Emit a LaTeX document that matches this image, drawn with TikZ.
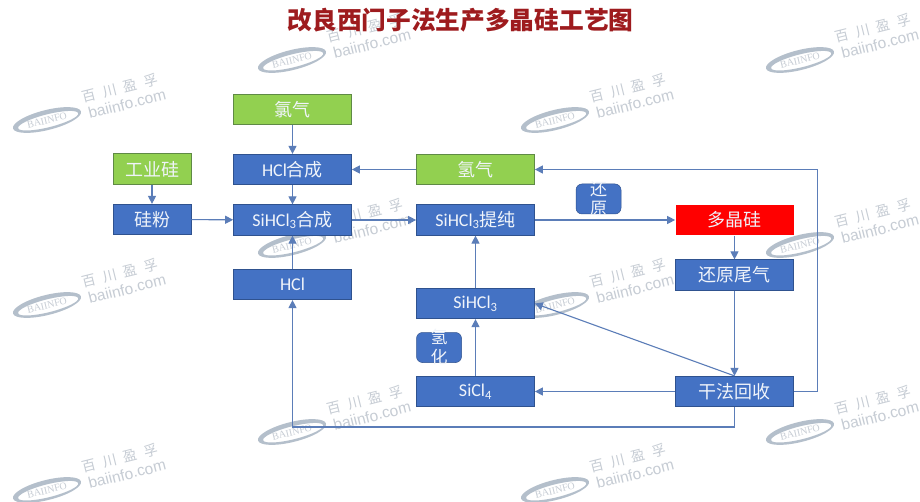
\documentclass[tikz,border=0pt]{standalone}
\usepackage{fontspec}
\setmainfont{Carlito}
\newfontfamily\cjk{Noto Sans CJK SC}
\newfontfamily\wmsans{Liberation Sans}
\newfontfamily\wmserif{Liberation Serif}
\usetikzlibrary{arrows.meta}
\definecolor{boxblue}{HTML}{4472C4}
\definecolor{boxedge}{HTML}{2F528F}
\definecolor{linkblue}{HTML}{5B7DB8}
\definecolor{leaf}{HTML}{92D050}
\definecolor{leafedge}{HTML}{5F8A45}
\definecolor{titlered}{HTML}{9E1B1E}
\definecolor{wmtext}{HTML}{C6CCD4}
\definecolor{wmring}{HTML}{B4BFCB}
\definecolor{softwhite}{HTML}{F0F4FA}
\tikzset{
  flowbox/.style={draw=boxedge,fill=boxblue,line width=0.7pt,text=softwhite,inner sep=0pt,
    font=\fontsize{18}{20}\selectfont,minimum height=30.5pt},
  wide/.style={minimum width=118pt},
  narrow/.style={minimum width=78pt},
  greenbox/.style={flowbox,draw=leafedge,fill=leaf},
  redbox/.style={flowbox,draw=none,fill=red,minimum width=118pt},
  tagbox/.style={draw=boxedge,fill=boxblue,line width=0.5pt,rounded corners=6pt,text=softwhite,inner sep=0pt,
    minimum width=45pt,minimum height=30pt,font=\fontsize{17}{19}\selectfont\cjk},
  link/.style={draw=linkblue,line width=1.1pt,-{Triangle[length=8pt,width=8pt]}},
  wmt/.style={text=wmtext,rotate=14,inner sep=0pt},
}
\newcommand{\wmark}[2]{%
  \begin{scope}[shift={(#1,#2)}]
    \fill[wmring,even odd rule,rotate=14] (0,0) ellipse [x radius=35,y radius=10]
      (1,1) ellipse [x radius=31,y radius=6.5];
    \node[wmt,font=\wmserif\fontsize{10}{10}\selectfont] (wl#1x#2) at (0,0.5) {BAIINFO};
    \node[wmt,font=\cjk\fontsize{14}{15}\selectfont] (wc#1x#2) at (73,-32) {百\hspace{7pt}川\hspace{7pt}盈\hspace{7pt}孚};
    \node[wmt,font=\wmsans\fontsize{15.5}{16}\selectfont] (wu#1x#2) at (80,-16) {baiinfo.com};
  \end{scope}}
\newcommand{\subn}[1]{\textsubscript{#1}}
\newcommand{\tagtext}[2]{\raisebox{-6pt}[0pt][0pt]{\smash{\begin{tabular}[c]{@{}c@{}}#1\\#2\end{tabular}}}}
\begin{document}
\begin{tikzpicture}[x=1pt,y=-1pt]
\path[use as bounding box,fill=white] (0,0) rectangle (920,502);
\wmark{292}{60}\wmark{800}{60}
\wmark{47}{120}\wmark{555}{120}
\wmark{292}{245}\wmark{800}{245}
\wmark{47}{305}\wmark{555}{305}
\wmark{292}{432}\wmark{800}{432}
\wmark{47}{490}\wmark{555}{490}

\node[text=titlered,inner sep=0pt,font=\cjk\bfseries\fontsize{24.7}{26}\selectfont] (title) at (460.5,20.5) {改良西门子法生产多晶硅工艺图};

\node[greenbox,wide] (cl) at (292.5,109.5) {\cjk 氯气};
\node[flowbox,wide] (hs) at (292.5,169.5) {HCl{\cjk 合成}};
\node[flowbox,wide] (sh) at (292.5,220) {SiHCl\subn{3}{\cjk 合成}};
\node[flowbox,wide] (hc) at (292.5,284.5) {HCl};
\node[greenbox,wide] (h2) at (475.5,169.5) {\cjk 氢气};
\node[flowbox,wide] (pu) at (475.5,220) {SiHCl\subn{3}{\cjk 提纯}};
\node[flowbox,wide] (s3) at (475.5,303.5) {SiHCl\subn{3}};
\node[flowbox,wide] (s4) at (475.5,391.5) {SiCl\subn{4}};
\node[greenbox,narrow] (gy) at (152,169) {\cjk 工业硅};
\node[flowbox,narrow] (gf) at (152,219.5) {\cjk 硅粉};
\node[redbox] (pc) at (734.5,220) {\cjk 多晶硅};
\node[flowbox,wide] (wq) at (734.5,275) {\cjk 还原尾气};
\node[flowbox,wide] (gr) at (734.5,391.5) {\cjk 干法回收};
\node[tagbox] (tr) at (598.5,199) {\tagtext{还}{原}};
\node[tagbox] (tq) at (439,347.5) {\tagtext{氢}{化}};

\coordinate (rtop) at (817.5,169.5);
\coordinate (bot) at (500,427);

\draw[link] (cl) -- (hs);
\draw[link] (hs) -- (sh);
\draw[link] (h2) -- (hs);
\draw[link] (gy) -- (gf);
\draw[link] (gf) -- (sh);
\draw[link] (sh) -- (pu);
\draw[link] (hc) -- (sh);
\draw[link] (pu) -- (pc);
\draw[link] (pc) -- (wq);
\draw[link] (wq) -- (gr);
\draw[link] (gr) -- (s4);
\draw[link] (s4) -- (s3);
\draw[link] (s3) -- (pu);
\draw[link] (gr.north) -- (s3.east);
\draw[link] (gr.east) -| (rtop) -- (h2.east);
\draw[link] (gr.south) |- (bot) -| (hc.south);
\end{tikzpicture}
\end{document}
